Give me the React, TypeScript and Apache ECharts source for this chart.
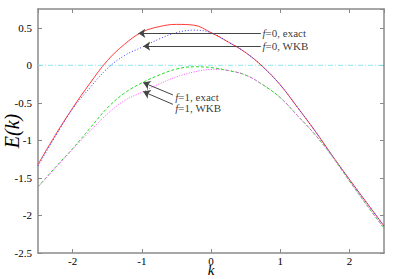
import React, { useEffect, useRef } from "react";
import * as echarts from "echarts";

const kValues = [-2.5, -2.25, -2.0, -1.75, -1.5, -1.25, -1.0, -0.75, -0.5, -0.25, 0, 0.25, 0.5, 0.75, 1.0, 1.25, 1.5, 1.75, 2.0, 2.25, 2.5];
const f0Exact = [-1.32, -0.93, -0.57, -0.24, 0.06, 0.28, 0.44, 0.515, 0.545, 0.535, 0.435, 0.31, 0.17, -0.02, -0.26, -0.56, -0.87, -1.2, -1.52, -1.83, -2.14];
const f0WKB = [-1.34, -0.95, -0.58, -0.3, -0.045, 0.13, 0.24, 0.35, 0.435, 0.468, 0.435, 0.31, 0.17, -0.02, -0.26, -0.56, -0.87, -1.2, -1.52, -1.83, -2.14];
const f1Exact = [-1.62, -1.36, -1.11, -0.84, -0.57, -0.37, -0.235, -0.13, -0.05, -0.02, -0.03, -0.07, -0.13, -0.26, -0.43, -0.67, -0.92, -1.21, -1.54, -1.86, -2.17];
const f1WKB = [-1.62, -1.37, -1.12, -0.88, -0.65, -0.47, -0.36, -0.25, -0.155, -0.09, -0.055, -0.068, -0.13, -0.26, -0.43, -0.67, -0.92, -1.21, -1.54, -1.86, -2.17];

const xTicks = [-2, -1, 0, 1, 2];
const yTickStep = 0.5;

// annotation labels: text anchor (k, E) and arrow tip (k, E)
const annLabels = ["f0e", "f0w", "f1e", "f1w"];
const annText = [
  ["0", "exact"],
  ["0", "WKB"],
  ["1", "exact"],
  ["1", "WKB"],
];
const annTextPos = [
  [0.73, 0.426],
  [0.73, 0.26],
  [-0.53, -0.416],
  [-0.53, -0.565],
];
const annArrowFrom = [
  [0.72, 0.426],
  [0.72, 0.26],
  [-0.55, -0.395],
  [-0.55, -0.52],
];
const annArrowTo = [
  [-1.05, 0.426],
  [-0.98, 0.255],
  [-0.98, -0.23],
  [-0.98, -0.35],
];

const serif = "Liberation Serif";
const axisColor = "#8a8a8a";

function pairs(ys: number[]) {
  return kValues.map((k, i) => [k, ys[i]]);
}

export default function App() {
  const ref = useRef<HTMLDivElement>(null);
  useEffect(() => {
    if (!ref.current) return;
    const chart = echarts.init(ref.current, undefined, { renderer: "svg" });
    const axisLine = { show: true, onZero: false, lineStyle: { color: axisColor, width: 1.5 } };
    const tick = { show: true, inside: true, length: 4, lineStyle: { color: axisColor, width: 1 } };
    chart.setOption({
      animation: false,
      textStyle: { fontFamily: serif },
      grid: { left: 38, right: 15, top: 9, bottom: 26, containLabel: false, outerBoundsMode: "none" },
      xAxis: [
        {
          type: "value",
          min: -2.5,
          max: 2.5,
          splitNumber: xTicks.length,
          position: "bottom",
          axisLine,
          axisTick: tick,
          splitLine: { show: false },
          axisLabel: {
            showMinLabel: false,
            showMaxLabel: false,
            color: "#000",
            fontFamily: serif,
            fontSize: 11,
            lineHeight: 10,
            margin: 3,
          },
          name: "k",
          nameLocation: "middle",
          nameGap: 11,
          nameMoveOverlap: false,
          nameTextStyle: { fontFamily: serif, fontStyle: "italic", fontSize: 15, lineHeight: 12, color: "#000" },
        },
        {
          type: "value",
          min: -2.5,
          max: 2.5,
          splitNumber: xTicks.length,
          position: "top",
          axisLine,
          axisTick: tick,
          splitLine: { show: false },
          axisLabel: { show: false },
        },
      ],
      yAxis: [
        {
          type: "value",
          min: -2.5,
          max: 0.75,
          interval: yTickStep,
          position: "left",
          axisLine,
          axisTick: tick,
          splitLine: { show: false },
          axisLabel: {
            showMaxLabel: false,
            color: "#000",
            fontFamily: serif,
            fontSize: 11,
            margin: 6,
          },
          name: "E(k)",
          nameLocation: "middle",
          nameGap: 16,
          nameMoveOverlap: false,
          nameRotate: 90,
          nameTextStyle: { fontFamily: serif, fontStyle: "italic", fontSize: 20, color: "#000" },
        },
        {
          type: "value",
          min: -2.5,
          max: 0.75,
          interval: yTickStep,
          position: "right",
          axisLine,
          axisTick: tick,
          splitLine: { show: false },
          axisLabel: { show: false },
        },
      ],
      series: [
        {
          type: "line",
          data: [[-2.5, 0], [2.5, 0]],
          symbol: "none",
          lineStyle: { color: "#8ee6f0", width: 1, type: [5, 2, 1, 2] },
          silent: true,
        },
        {
          name: "f=0, exact",
          type: "line",
          data: pairs(f0Exact),
          smooth: 0.4,
          symbol: "none",
          lineStyle: { color: "#ff3b3b", width: 1 },
        },
        {
          name: "f=0, WKB",
          type: "line",
          data: pairs(f0WKB),
          smooth: 0.4,
          symbol: "none",
          lineStyle: { color: "#3a3aff", width: 1, type: [1, 2] },
        },
        {
          name: "f=1, exact",
          type: "line",
          data: pairs(f1Exact),
          smooth: 0.4,
          symbol: "none",
          lineStyle: { color: "#22dd22", width: 1, type: [3, 2] },
        },
        {
          name: "f=1, WKB",
          type: "line",
          data: pairs(f1WKB),
          smooth: 0.4,
          symbol: "none",
          lineStyle: { color: "#ff55ff", width: 1, type: [1, 1.5] },
        },
        {
          type: "scatter",
          symbolSize: 0,
          itemStyle: { color: "transparent" },
          silent: true,
          data: annLabels.map((id, i) => ({
            name: id,
            value: annTextPos[i],
            label: {
              show: true,
              position: "right",
              distance: 1,
              formatter: "{i|f}{n|=" + annText[i][0] + ", " + annText[i][1] + "}",
              rich: {
                i: { fontStyle: "italic", fontFamily: serif, fontSize: 11, color: "#000" },
                n: { fontFamily: serif, fontSize: 11, color: "#000" },
              },
            },
          })),
          markLine: {
            silent: true,
            symbol: ["none", "arrow"],
            symbolSize: 7,
            label: { show: false },
            lineStyle: { color: "#444", width: 1, type: "solid" },
            emphasis: { disabled: true },
            data: annLabels.map((_, i) => [
              { coord: annArrowFrom[i] },
              { coord: annArrowTo[i] },
            ]),
          },
        },
      ],
    });
    return () => chart.dispose();
  }, []);
  return (
    <div
      ref={ref}
      style={{ position: "fixed", left: 0, top: 0, width: 399, height: 279, background: "#fff" }}
    />
  );
}
